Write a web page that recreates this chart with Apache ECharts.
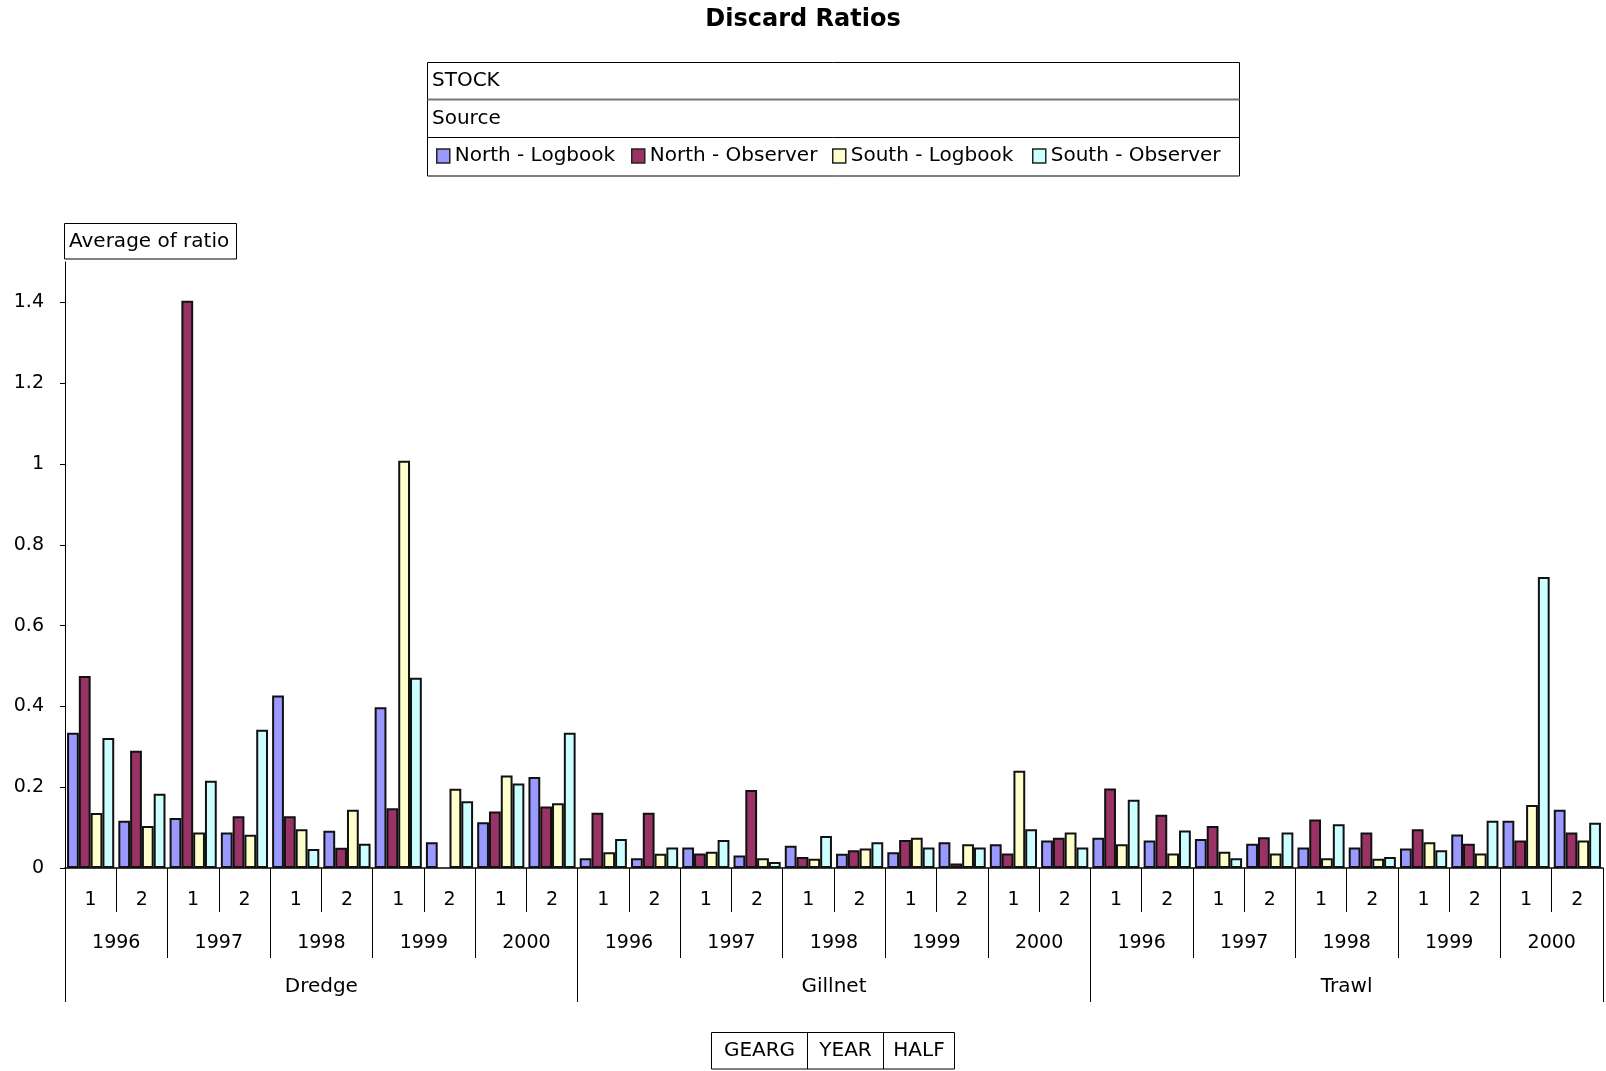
<!DOCTYPE html>
<html>
<head>
<meta charset="utf-8">
<script src="https://cdn.jsdelivr.net/npm/echarts@6/dist/echarts.min.js"></script>
<style>
  html, body { margin: 0; padding: 0; background: #fff; }
  #chart { width: 1606px; height: 1071px; }
</style>
</head>
<body>
<div id="chart"></div>
<script>
// Category hierarchy: gear type > year > half-year
const gears = ['Dredge', 'Gillnet', 'Trawl'];
const years = ['1996', '1997', '1998', '1999', '2000'];
const halves = ['1', '2'];

// Average discard ratio per (gear, year, half), in category order
const northLogbook = [
  0.335, 0.117, 0.124, 0.088, 0.427, 0.092, 0.398, 0.064, 0.113, 0.225,
  0.024, 0.024, 0.051, 0.031, 0.055, 0.035, 0.039, 0.064, 0.059, 0.068,
  0.075, 0.068, 0.072, 0.060, 0.051, 0.051, 0.048, 0.083, 0.117, 0.144
];
const northObserver = [
  0.475, 0.290, 1.404, 0.128, 0.128, 0.050, 0.148, null, 0.140, 0.152,
  0.137, 0.137, 0.036, 0.193, 0.027, 0.044, 0.069, 0.011, 0.036, 0.075,
  0.197, 0.132, 0.104, 0.076, 0.120, 0.088, 0.096, 0.060, 0.068, 0.088
];
const southLogbook = [
  0.136, 0.104, 0.088, 0.082, 0.096, 0.144, 1.008, 0.196, 0.229, 0.160,
  0.039, 0.035, 0.040, 0.024, 0.023, 0.048, 0.075, 0.059, 0.241, 0.088,
  0.059, 0.036, 0.040, 0.036, 0.024, 0.023, 0.064, 0.036, 0.156, 0.068
];
const southObserver = [
  0.322, 0.184, 0.216, 0.342, 0.047, 0.060, 0.471, 0.165, 0.209, 0.335,
  0.072, 0.051, 0.069, 0.015, 0.079, 0.064, 0.051, 0.051, 0.096, 0.051,
  0.169, 0.093, 0.024, 0.088, 0.108, 0.027, 0.044, 0.117, 0.720, 0.112
];

const seriesNames = ['North - Logbook', 'North - Observer', 'South - Logbook', 'South - Observer'];
const yTicks = [0, 0.2, 0.4, 0.6, 0.8, 1, 1.2, 1.4];

// Build the three category levels
const halfCats = [];
const yearCats = [];
gears.forEach(function () {
  years.forEach(function (y) {
    yearCats.push(y);
    halves.forEach(function (h) { halfCats.push(h); });
  });
});

const FONT = 'DejaVu Sans';
const NUM_SIZE = 19;
const WORD_SIZE = 20;
const colors = ['#9999FF', '#993366', '#FFFFCC', '#CCFFFF'];
const seriesData = [northLogbook, northObserver, southLogbook, southObserver];

const chart = echarts.init(document.getElementById('chart'), null, { renderer: 'canvas' });

const legendLefts = [436, 631, 832, 1032];
const legends = seriesNames.map(function (name, i) {
  return {
    data: [name],
    left: legendLefts[i],
    top: 146,
    padding: 0,
    icon: 'rect',
    itemWidth: 13,
    itemHeight: 14,
    itemGap: 0,
    itemStyle: { borderColor: '#222', borderWidth: 1.5 },
    textStyle: { fontFamily: FONT, fontSize: WORD_SIZE, color: '#000' },
    itemTextGap: 6,
    selectedMode: false
  };
});

function labelAxis(data, tickLen, margin, showLine, fontSize) {
  return {
    type: 'category',
    data: data,
    position: 'bottom',
    gridIndex: 0,
    axisLine: { show: showLine, onZero: false, lineStyle: { color: '#000', width: 1.5 } },
    axisTick: { show: true, interval: 0, length: tickLen, lineStyle: { color: '#000', width: 1 } },
    axisLabel: {
      interval: 0, margin: margin, verticalAlign: 'middle',
      fontFamily: FONT, fontSize: fontSize, color: '#000'
    },
    splitLine: { show: false }
  };
}

function boxText(text, x, y, align) {
  return {
    type: 'text', x: x, y: y, silent: true,
    style: { text: text, fontFamily: FONT, fontSize: WORD_SIZE, fill: '#000',
      align: align || 'left', verticalAlign: 'middle' }
  };
}

function boxLine(x1, y1, x2, y2, color, width) {
  return {
    type: 'line', silent: true,
    shape: { x1: x1, y1: y1, x2: x2, y2: y2 },
    style: { stroke: color || '#000', lineWidth: width || 1 }
  };
}

function boxRect(x, y, w, h) {
  return {
    type: 'rect', silent: true,
    shape: { x: x, y: y, width: w, height: h },
    style: { fill: 'none', stroke: '#000', lineWidth: 1 }
  };
}

const option = {
  animation: false,
  backgroundColor: '#fff',
  title: {
    text: 'Discard Ratios',
    left: 'center',
    top: 8,
    padding: 0,
    textStyle: { fontFamily: FONT, fontSize: 24, fontWeight: 'bold', color: '#000' }
  },
  legend: legends,
  grid: { left: 65, right: 3, top: 262, bottom: 203 },
  xAxis: [
    labelAxis(halfCats, 44, 32, true, NUM_SIZE),
    labelAxis(yearCats, 90, 75, false, NUM_SIZE),
    labelAxis(gears, 134, 119, false, WORD_SIZE)
  ],
  yAxis: {
    type: 'value',
    min: 0,
    max: 1.5,
    axisLine: { show: true, lineStyle: { color: '#000', width: 1 } },
    axisTick: { show: true, length: 5, customValues: yTicks, lineStyle: { color: '#000' } },
    axisLabel: { customValues: yTicks, margin: 21, fontFamily: FONT, fontSize: NUM_SIZE, color: '#000' },
    splitLine: { show: false }
  },
  series: seriesNames.map(function (name, i) {
    return {
      name: name,
      type: 'bar',
      xAxisIndex: 0,
      yAxisIndex: 0,
      data: seriesData[i],
      barGap: '0%',
      barCategoryGap: '8%',
      itemStyle: { color: colors[i], borderColor: '#111', borderWidth: 2 }
    };
  }),
  graphic: [
    // STOCK / Source / legend panel
    boxRect(427.5, 62.5, 812, 113.5),
    boxLine(427.5, 99.5, 1239.5, 99.5, '#777', 2),
    boxLine(427.5, 137.5, 1239.5, 137.5),
    boxText('STOCK', 432, 81),
    boxText('Source', 432, 119),
    // value field caption
    boxRect(64.5, 223.5, 172, 35.5),
    boxText('Average of ratio', 69, 241.5),
    // row field captions
    boxRect(711.5, 1032.5, 243, 36.5),
    boxLine(807.5, 1032.5, 807.5, 1069),
    boxLine(883.5, 1032.5, 883.5, 1069),
    boxText('GEARG', 759.5, 1051, 'center'),
    boxText('YEAR', 845.5, 1051, 'center'),
    boxText('HALF', 919, 1051, 'center')
  ]
};

chart.setOption(option);
</script>
</body>
</html>
